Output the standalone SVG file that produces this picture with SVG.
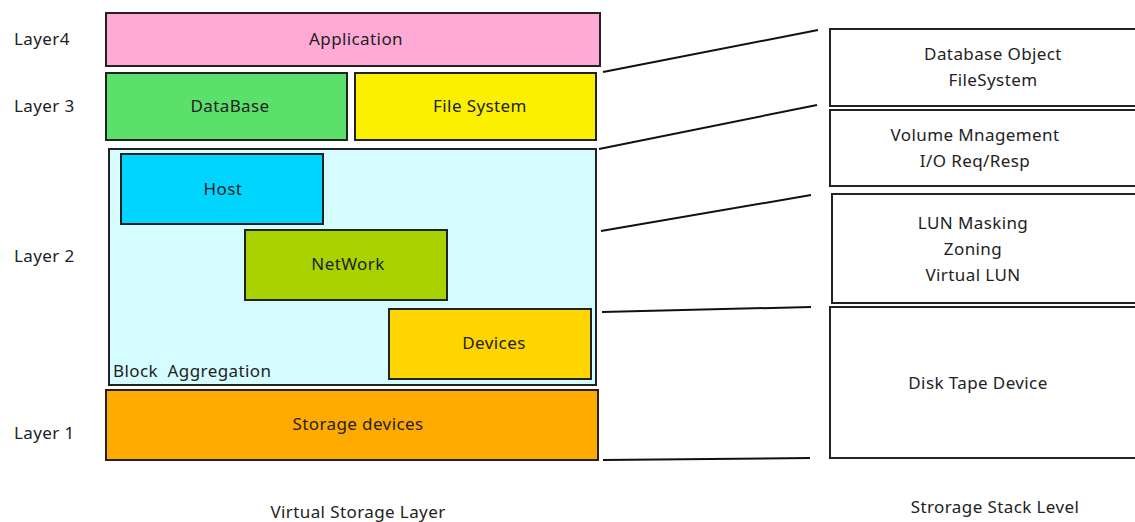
<svg xmlns="http://www.w3.org/2000/svg" width="1135" height="522" viewBox="0 0 1135 522">
<style>
text{font-family:"Noto Sans","Liberation Sans",sans-serif;font-size:17px;letter-spacing:0.4px;fill:#222;white-space:pre;}
.c{text-anchor:middle;}
.b{stroke:#222;stroke-width:2;}
.w{fill:#fff;stroke:#222;stroke-width:2;}
.ln{stroke:#111;stroke-width:2;fill:none;}
</style>
<rect width="1135" height="522" fill="#fff"/>
<g id="labels">
<text x="14" y="45">Layer4</text>
<text x="14" y="112">Layer 3</text>
<text x="14" y="262">Layer 2</text>
<text x="14" y="439">Layer 1</text>
<text x="358" y="518" class="c">Virtual Storage Layer</text>
<text x="995" y="513" class="c">Strorage Stack Level</text>
</g>
<g id="application"><rect class="b" x="106" y="13" width="494" height="53" fill="#FFAAD5"/><text x="356" y="45" class="c">Application</text></g>
<g id="database"><rect class="b" x="106" y="73" width="241" height="67" fill="#5BE06C"/><text x="230" y="112" class="c">DataBase</text></g>
<g id="filesystem"><rect class="b" x="355" y="73" width="241" height="67" fill="#FAF000"/><text x="480" y="112" class="c">File System</text></g>
<g id="block"><rect class="b" x="109" y="149" width="487" height="236" fill="#D5FDFF"/><text x="113" y="377" xml:space="preserve">Block  Aggregation</text></g>
<g id="host"><rect class="b" x="121" y="154" width="202" height="70" fill="#00D5FF"/><text x="223" y="195" class="c">Host</text></g>
<g id="network"><rect class="b" x="245" y="230" width="202" height="70" fill="#A8D300"/><text x="348" y="270" class="c">NetWork</text></g>
<g id="devices"><rect class="b" x="389" y="309" width="202" height="70" fill="#FFD500"/><text x="494" y="349" class="c">Devices</text></g>
<g id="storage"><rect class="b" x="106" y="390" width="492" height="70" fill="#FFAA00"/><text x="358" y="430" class="c">Storage devices</text></g>
<g id="s1"><rect class="w" x="830" y="29" width="310" height="77"/><text x="993" y="60" class="c">Database Object</text><text x="993" y="86" class="c">FileSystem</text></g>
<g id="s2"><rect class="w" x="830" y="110" width="310" height="76"/><text x="975" y="141" class="c">Volume Mnagement</text><text x="975" y="167" class="c">I/O Req/Resp</text></g>
<g id="s3"><rect class="w" x="832" y="194" width="310" height="109"/><text x="973" y="229" class="c">LUN Masking</text><text x="973" y="255" class="c">Zoning</text><text x="973" y="281" class="c">Virtual LUN</text></g>
<g id="s4"><rect class="w" x="830" y="307" width="310" height="151"/><text x="978" y="389" class="c">Disk Tape Device</text></g>
<g id="connectors">
<line class="ln" x1="603" y1="72" x2="818" y2="30"/>
<line class="ln" x1="599" y1="149" x2="817" y2="105"/>
<line class="ln" x1="601" y1="231" x2="811" y2="195"/>
<line class="ln" x1="602" y1="312" x2="811" y2="307"/>
<line class="ln" x1="603" y1="460" x2="810" y2="458"/>
</g>
</svg>
